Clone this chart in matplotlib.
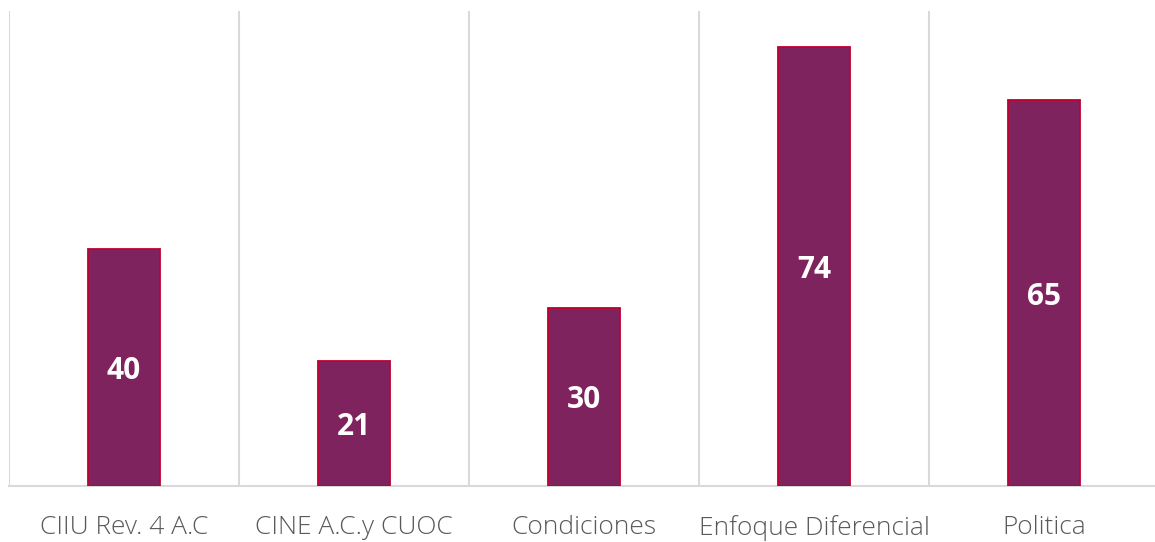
import numpy as np
import matplotlib
matplotlib.use("Agg")
from matplotlib import pyplot as plt

categorias = ["CIIU Rev. 4 A.C", "CINE A.C.y CUOC", "Condiciones", "Enfoque Diferencial", "Politica"]
valores = [40, 21, 30, 74, 65]

plt.rcParams['font.family'] = ['Open Sans', 'DejaVu Sans']

fig = plt.figure(figsize=(11.55, 5.42), dpi=100)
# axes box in pixels: left 9, right 1159, bottom 486, top 11
ax = fig.add_axes([9/1155, (542-486)/542, 1150/1155, 475/542])

x = np.arange(len(categorias))
bars = ax.bar(x, valores, width=0.313, color='#7F235F', edgecolor='#C0002F', linewidth=1.3, zorder=3)

for b, v in zip(bars, valores):
    ax.annotate(str(v), (b.get_x() + b.get_width()/2, v/2), xytext=(0, -2.5),
                textcoords='offset points', ha='center', va='center',
                color='white', fontsize=21.5, fontweight='bold', zorder=4)

ax.set_xlim(-0.5, len(categorias) - 0.5)
ax.set_ylim(0, 80)
ax.set_yticks([])
ax.set_xticks(x)
ax.set_xticklabels(categorias, fontsize=19, color='#595959', fontweight='light')
ax.tick_params(axis='x', length=0, pad=21)

# vertical separators between categories
for xb in np.arange(-0.5, len(categorias), 1.0):
    ax.axvline(xb, color='#D9D9D9', linewidth=1.5, zorder=1)

for s in ['top', 'right', 'left']:
    ax.spines[s].set_visible(False)
ax.spines['bottom'].set_color('#D9D9D9')
ax.spines['bottom'].set_linewidth(1.5)

fig.savefig("out.png", dpi=100)
